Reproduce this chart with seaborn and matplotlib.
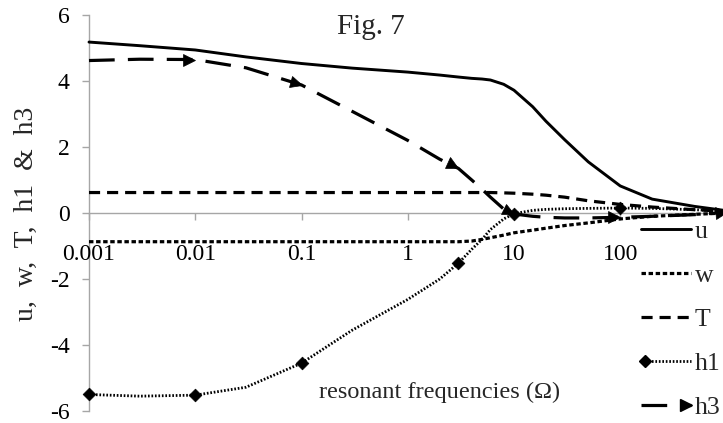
import numpy as np
import pandas as pd
import matplotlib
matplotlib.use("Agg")
import matplotlib.pyplot as plt
import seaborn as sns
from matplotlib.lines import Line2D
from matplotlib.markers import MarkerStyle
from matplotlib.transforms import Affine2D
from matplotlib.legend_handler import HandlerLine2D
from matplotlib.ticker import NullLocator

# Frequency samples (log axis) and the five responses
omega = [0.001, 0.003, 0.01, 0.03, 0.1, 0.3, 1, 2, 3, 4, 5, 6, 8, 10,
         15, 20, 30, 50, 100, 200, 500, 1000]
u = [5.18, 5.07, 4.94, 4.73, 4.53, 4.39, 4.27, 4.18, 4.12, 4.08, 4.06, 4.03,
     3.90, 3.72, 3.22, 2.78, 2.22, 1.55, 0.82, 0.42, 0.20, 0.07]
w = [-0.87, -0.87, -0.87, -0.87, -0.87, -0.87, -0.87, -0.87, -0.87, -0.85,
     -0.80, -0.75, -0.67, -0.60, -0.52, -0.46, -0.38, -0.30, -0.18, -0.10,
     -0.04, 0.0]
T = [0.62, 0.62, 0.62, 0.62, 0.62, 0.62, 0.62, 0.62, 0.62, 0.62, 0.62, 0.62,
     0.61, 0.60, 0.57, 0.54, 0.48, 0.37, 0.26, 0.18, 0.10, 0.05]
h1 = [-5.50, -5.55, -5.52, -5.28, -4.55, -3.55, -2.62, -2.00, -1.52, -1.10,
      -0.80, -0.50, -0.18, -0.02, 0.08, 0.11, 0.13, 0.14, 0.15, 0.14, 0.10,
      0.05]
h3 = [4.62, 4.66, 4.65, 4.40, 3.88, 3.08, 2.20, 1.63, 1.35, 1.00, 0.72, 0.48,
      0.12, -0.03, -0.10, -0.13, -0.15, -0.15, -0.13, -0.10, -0.05, 0.02]

# Frequencies carrying a point marker
h1_marked = [0.001, 0.01, 0.1, 3, 10, 100, 1000]
h3_marked = [0.01, 0.1, 3, 10, 100, 1000]

x_ticks = [0.001, 0.01, 0.1, 1, 10, 100, 1000]
x_tick_labels = ["0.001", "0.01", "0.1", "1", "10", "100", ""]
y_ticks = [-6, -4, -2, 0, 2, 4, 6]

sns.set_theme(style="white")
plt.rcParams["font.family"] = ["Liberation Serif", "DejaVu Serif"]
plt.rcParams["axes.unicode_minus"] = False
plt.rcParams["lines.scale_dashes"] = False

W, H = 723, 423
fig = plt.figure(figsize=(W / 100, H / 100), dpi=100)
fig.patch.set_facecolor("white")
ax = fig.add_axes([89 / W, 1 - 411 / H, (726.5 - 89) / W, 396 / H])
ax.set_facecolor("white")

df = pd.DataFrame({"omega": omega, "u": u, "w": w, "T": T, "h1": h1, "h3": h3})

styles = {
    "u": dict(linestyle="-", linewidth=2.1),
    "w": dict(linestyle=(0, (3.2, 1.9)), linewidth=2.3),
    "T": dict(linestyle=(0, (8.0, 5.0)), linewidth=2.3),
    "h1": dict(linestyle=(0, (1.2, 1.3)), linewidth=2.0),
    "h3": dict(linestyle=(0, (18.5, 9.5)), linewidth=2.3),
}
handles = {}
for name in ["u", "w", "T", "h1", "h3"]:
    n_before = len(ax.lines)
    sns.lineplot(data=df, x="omega", y=name, ax=ax, color="black",
                 label=name, legend=False, clip_on=False, **styles[name])
    handles[name] = ax.lines[n_before]

ax.set_xscale("log")
ax.set_xlim(0.001, 1000)
ax.set_ylim(-6, 6)

# h1 diamonds
h1_pts = df[df["omega"].isin(h1_marked)]
sns.scatterplot(x=h1_pts["omega"], y=h1_pts["h1"], ax=ax, marker="D", s=42,
                color="black", edgecolor="black", linewidth=0.5,
                clip_on=False, zorder=5, legend=False)

# h3 arrowheads, rotated along the incoming segment
for xv in h3_marked:
    i = omega.index(xv)
    p0, p1 = ax.transData.transform([(omega[i - 1], h3[i - 1]), (omega[i], h3[i])])
    ang = np.degrees(np.arctan2(p1[1] - p0[1], p1[0] - p0[0]))
    mk = MarkerStyle(">", transform=Affine2D().translate(-0.5, 0).rotate_deg(ang))
    ax.plot([omega[i]], [h3[i]], linestyle="None", marker=mk, ms=8.5,
            color="black", mec="black", mew=0.5, clip_on=False, zorder=6)

# Axes styling
axis_grey = "#a6a6a6"
for side in ["top", "right"]:
    ax.spines[side].set_visible(False)
ax.spines["bottom"].set_position(("data", 0))
for side in ["left", "bottom"]:
    ax.spines[side].set_color(axis_grey)
    ax.spines[side].set_linewidth(1.0)
    ax.spines[side].set_zorder(0.5)

ax.set_xticks(x_ticks)
ax.set_xticklabels(x_tick_labels)
ax.xaxis.set_minor_locator(NullLocator())
ax.set_yticks(y_ticks)
ax.set_yticklabels([str(v) for v in y_ticks])
ax.tick_params(axis="x", direction="out", length=5, width=1.0, color=axis_grey,
               pad=17, labelsize=17, labelcolor="black", bottom=True)
ax.tick_params(axis="y", direction="out", length=5, width=1.0, color=axis_grey,
               pad=9, labelsize=17, labelcolor="black", left=True)
ax.set_xlabel("")
ax.set_ylabel("")
ax.grid(False)

# Titles and axis captions
fig.text(371 / W, 1 - 27 / H, "Fig. 7", fontsize=21, ha="center", va="center")
fig.text(26 / W, 1 - 214 / H, "u,  w,  T,  h1  &  h3", fontsize=20,
         rotation=90, ha="center", va="center")
fig.text(440 / W, 1 - 392 / H, "resonant frequencies (\u03a9)", fontsize=17.5,
         ha="center", va="center")


class EdgeMarkerHandler(HandlerLine2D):
    """Legend line with a single marker at one end of the sample."""

    def __init__(self, side, marker, ms, **kw):
        super().__init__(**kw)
        self.side = side
        self.mk = marker
        self.ms = ms

    def create_artists(self, legend, orig_handle, xdescent, ydescent,
                       width, height, fontsize, trans):
        y = (height - ydescent) / 2
        x0, x1 = -xdescent, -xdescent + width
        line = Line2D([x0, x1], [y, y])
        self.update_prop(line, orig_handle, legend)
        line.set_marker("None")
        line.set_transform(trans)
        mx = x0 + 3 if self.side == "left" else x1 - 4
        mk = Line2D([mx], [y], linestyle="None", marker=self.mk,
                    markersize=self.ms, color="black", mec="black")
        mk.set_transform(trans)
        return [line, mk]


leg = fig.legend(
    [handles[k] for k in ["u", "w", "T", "h1", "h3"]],
    ["u", "w", "T", "h1", "h3"],
    loc="upper left", bbox_to_anchor=(641 / W, 1 - 220 / H),
    frameon=False, fontsize=18.5, handlelength=1.95, handletextpad=0.15,
    labelspacing=0.82, borderpad=0, borderaxespad=0,
    handler_map={
        handles["h1"]: EdgeMarkerHandler("left", "D", 6.5),
        handles["h3"]: EdgeMarkerHandler("right", ">", 8.5),
    },
)

fig.savefig("out.png", dpi=100, facecolor="white")
